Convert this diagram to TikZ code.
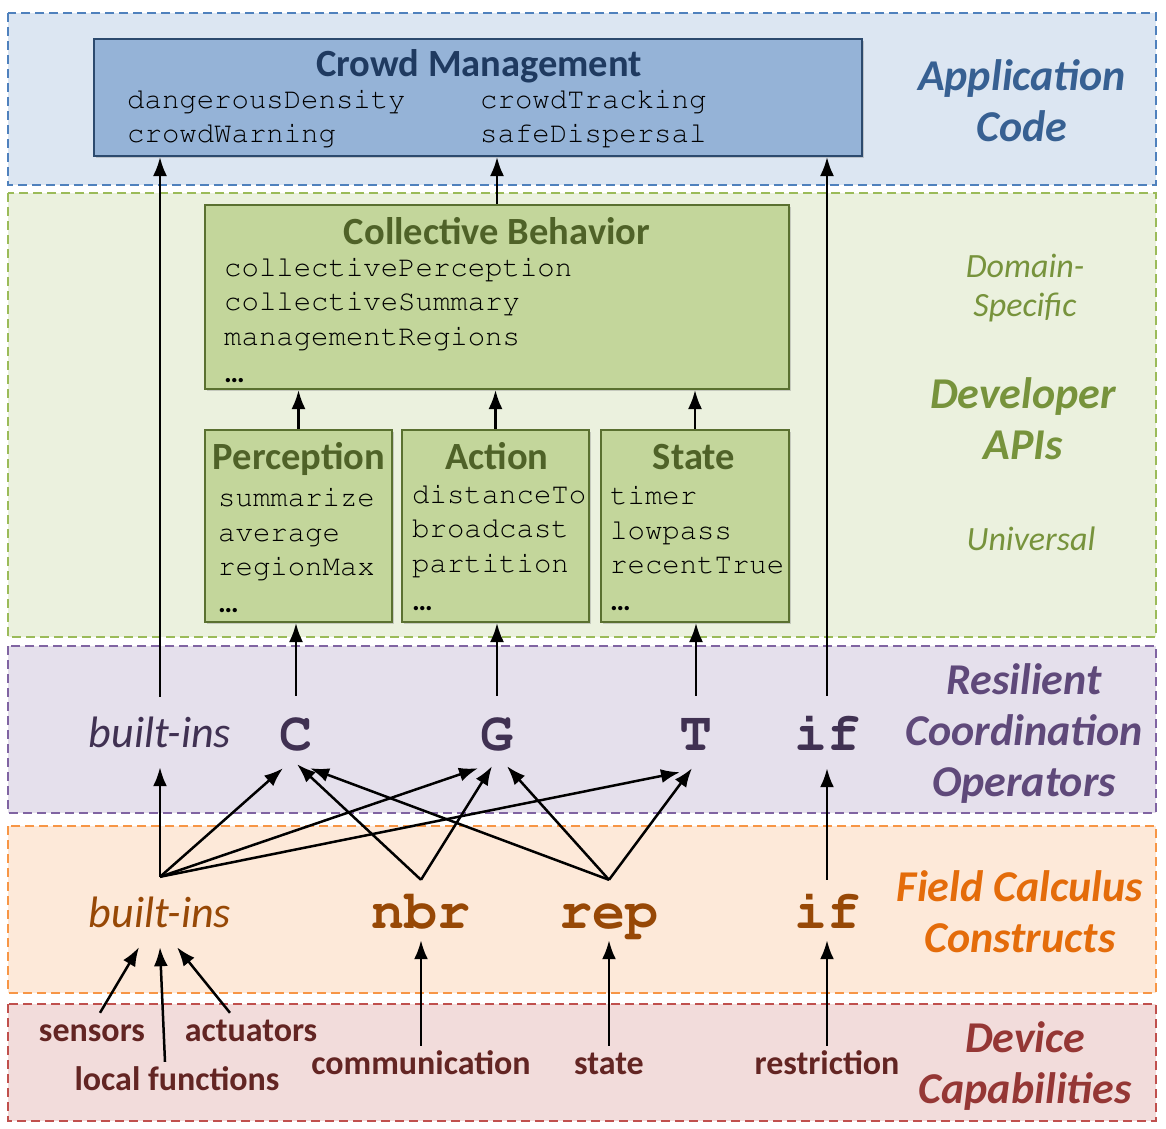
\documentclass[tikz,border=0pt]{standalone}
\usepackage[T1]{fontenc}
\usepackage{fontspec}
\setmainfont{Carlito}
\newcommand\courfont{\fontencoding{T1}\fontfamily{pcr}\selectfont}
\usetikzlibrary{arrows.meta, shadows}

\definecolor{appFill}{HTML}{DCE6F2}
\definecolor{appLine}{HTML}{4F81BD}
\definecolor{appText}{HTML}{376092}
\definecolor{crowdFill}{HTML}{95B3D7}
\definecolor{crowdLine}{HTML}{2C4A6E}
\definecolor{crowdText}{HTML}{1F3A60}
\definecolor{devFill}{HTML}{EBF1DE}
\definecolor{devLine}{HTML}{9BBB59}
\definecolor{devText}{HTML}{77933C}
\definecolor{greenFill}{HTML}{C3D69B}
\definecolor{greenLine}{HTML}{5A7030}
\definecolor{greenText}{HTML}{4F6228}
\definecolor{rcoFill}{HTML}{E5E0EC}
\definecolor{rcoLine}{HTML}{8064A2}
\definecolor{rcoText}{HTML}{5F497A}
\definecolor{rcoOp}{HTML}{403152}
\definecolor{fcFill}{HTML}{FDE9D9}
\definecolor{fcLine}{HTML}{F79646}
\definecolor{fcText}{HTML}{E46C0A}
\definecolor{fcOp}{HTML}{974806}
\definecolor{capFill}{HTML}{F2DCDB}
\definecolor{capLine}{HTML}{C0504D}
\definecolor{capText}{HTML}{632523}
\definecolor{capTitle}{HTML}{953735}

\begin{document}
\begin{tikzpicture}[
  x=1pt, y=-1pt,
  band/.style={line width=1.7pt, dash pattern=on 9pt off 5pt},
  box/.style={line width=2pt, inner sep=0pt, drop shadow={shadow xshift=2pt, shadow yshift=-2pt, opacity=.35}},
  crowdbox/.style={box, draw=crowdLine, fill=crowdFill},
  greenbox/.style={box, draw=greenLine, fill=greenFill, minimum height=192},
  boxtitle/.style={inner sep=0pt, anchor=base, text depth=0pt, font=\fontsize{38.5}{40}\selectfont\bfseries},
  code/.style={inner sep=0pt, anchor=base west, font=\fontsize{29}{34}\courfont},
  dots/.style={inner sep=0pt, anchor=base west, font=\fontsize{29}{34}\selectfont\bfseries},
  op/.style={anchor=base, text height=36pt, text depth=0pt, font=\fontsize{55}{60}\courfont\bfseries},
  builtin/.style={inner sep=20pt, anchor=base, text height=30pt, text depth=0pt, font=\fontsize{44}{46}\selectfont\itshape},
  capab/.style={inner sep=4pt, anchor=base, text height=24pt, text=capText, font=\fontsize{34}{38}\selectfont\bfseries},
  layer/.style={align=center, font=\fontsize{44}{51}\selectfont\bfseries\itshape},
  sublayer/.style={align=center, text=devText, font=\fontsize{34}{39}\selectfont\itshape},
  flow/.style={line width=2.5pt, -{Latex[length=19pt,width=14pt]}}
]
\useasboundingbox (0,0) rectangle (1166,1128);

%layer bands
\draw[band, fill=appFill, draw=appLine] (8,13) rectangle (1156,185);
\draw[band, fill=devFill, draw=devLine] (8,193) rectangle (1156,637);
\draw[band, fill=rcoFill, draw=rcoLine] (8,646) rectangle (1156,813);
\draw[band, fill=fcFill, draw=fcLine] (8,826) rectangle (1156,993);
\draw[band, fill=capFill, draw=capLine] (8,1004) rectangle (1156,1121);

%layer names
\node[layer, text=appText] (appName) at (1022,101) {Application\\Code};
\node[sublayer] (domName) at (1025,288) {Domain-\\Specific};
\node[layer, text=devText] (devName) at (1023,419) {Developer\\APIs};
\node[sublayer] (uniName) at (1031,539) {Universal};
\node[layer, text=rcoText] (rcoName) at (1024,734) {Resilient\\Coordination\\Operators};
\node[layer, text=fcText] (fcName) at (1020,912) {Field Calculus\\Constructs};
\node[layer, text=capTitle] (capName) at (1025,1066) {Device\\Capabilities};

%application code
\node[crowdbox, minimum width=768, minimum height=117] (crowd) at (478,97.5) {};
\node[boxtitle, text=crowdText] (crowdT) at (479,76) {Crowd Management};
\node[code] (cmA) at (127,108) {dangerousDensity};
\node[code] (cmB) at (480,108) {crowdTracking};
\node[code] (cmC) at (127,142) {crowdWarning};
\node[code] (cmD) at (480,142) {safeDispersal};

%domain-specific APIs
\node[greenbox, minimum width=584, minimum height=184] (coll) at (497,297) {};
\node[boxtitle, text=greenText] (collT) at (497,244) {Collective Behavior};
\node[code] (cbA) at (224,276) {collectivePerception};
\node[code] (cbB) at (224,310) {collectiveSummary};
\node[code] (cbC) at (224,345) {managementRegions};
\node[dots] (cbD) at (224,382) {…};

%universal APIs
\node[greenbox, minimum width=187] (perc) at (298.5,526) {};
\node[greenbox, minimum width=187] (act) at (495.5,526) {};
\node[greenbox, minimum width=188] (stat) at (695,526) {};
\node[boxtitle, text=greenText] (percT) at (299,469) {Perception};
\node[boxtitle, text=greenText] (actT) at (497,469) {Action};
\node[boxtitle, text=greenText] (statT) at (694,469) {State};
\node[code] (pA) at (218,506) {summarize};
\node[code] (pB) at (218,541) {average};
\node[code] (pC) at (218,575) {regionMax};
\node[dots] (pD) at (218,612) {…};
\node[code] (aA) at (412,503) {distanceTo};
\node[code] (aB) at (412,537) {broadcast};
\node[code] (aC) at (412,572) {partition};
\node[dots] (aD) at (412,610) {…};
\node[code] (sA) at (610,504) {timer};
\node[code] (sB) at (610,539) {lowpass};
\node[code] (sC) at (610,573) {recentTrue};
\node[dots] (sD) at (610,610) {…};

%resilient coordination operators
\node[builtin, text=rcoOp] (rbi) at (160,747) {built-ins};
\node[op, inner sep=18pt, text=rcoOp] (opC) at (296,750) {C};
\node[op, inner sep=18pt, text=rcoOp] (opG) at (497,750) {G};
\node[op, inner sep=18pt, text=rcoOp] (opT) at (696,750) {T};
\node[op, inner sep=18pt, text=rcoOp] (rif) at (827,750) {if};

%field calculus constructs
\node[builtin, text=fcOp] (fbi) at (160,927) {built-ins};
\node[op, inner sep=12pt, text=fcOp] (nbr) at (421,928) {nbr};
\node[op, inner sep=12pt, text=fcOp] (rep) at (609,928) {rep};
\node[op, inner sep=12pt, text=fcOp] (fif) at (827,928) {if};

%device capabilities
\node[capab] (sens) at (92,1041) {sensors};
\node[capab] (actu) at (251,1041) {actuators};
\node[capab] (loc) at (177,1090) {local functions};
\node[capab] (comm) at (421,1074) {communication};
\node[capab] (stt) at (609,1074) {state};
\node[capab] (restr) at (827,1074) {restriction};

%upward flow
\draw[flow] (rbi.north) -- (rbi.north |- crowd.south);
\draw[flow] (coll.north) -- (coll.north |- crowd.south);
\draw[flow] (rif.north) -- (rif.north |- crowd.south);
\draw[flow] (perc.north) -- (perc.north |- coll.south);
\draw[flow] (act.north) -- (act.north |- coll.south);
\draw[flow] (stat.north) -- (stat.north |- coll.south);
\draw[flow] (opC.north) -- (opC.north |- perc.south);
\draw[flow] (opG.north) -- (opG.north |- act.south);
\draw[flow] (opT.north) -- (opT.north |- stat.south);

\draw[flow] (fbi.north) -- (rbi.south);
\draw[flow] (fbi.north) -- ([xshift=-13pt]opC.south);
\draw[flow] (fbi.north) -- ([xshift=-19pt]opG.south);
\draw[flow] (fbi.north) -- ([xshift=-16pt,yshift=-4pt]opT.south);
\draw[flow] (nbr.north) -- ([xshift=1pt,yshift=4pt]opC.south);
\draw[flow] (nbr.north) -- ([xshift=-5pt,yshift=2pt]opG.south);
\draw[flow] (rep.north) -- ([xshift=14pt]opC.south);
\draw[flow] (rep.north) -- ([xshift=10pt,yshift=2pt]opG.south);
\draw[flow] (rep.north) -- ([xshift=-4pt]opT.south);
\draw[flow] (fif.north) -- (rif.south);

\draw[flow] ([xshift=8pt]sens.north) -- ([xshift=-21pt]fbi.south);
\draw[flow] ([xshift=-12pt]loc.north) -- (fbi.south);
\draw[flow] ([xshift=-21pt]actu.north) -- ([xshift=17pt]fbi.south);
\draw[flow] (comm.north) -- (nbr.south);
\draw[flow] (stt.north) -- (rep.south);
\draw[flow] (restr.north) -- (fif.south);

\end{tikzpicture}
\end{document}
